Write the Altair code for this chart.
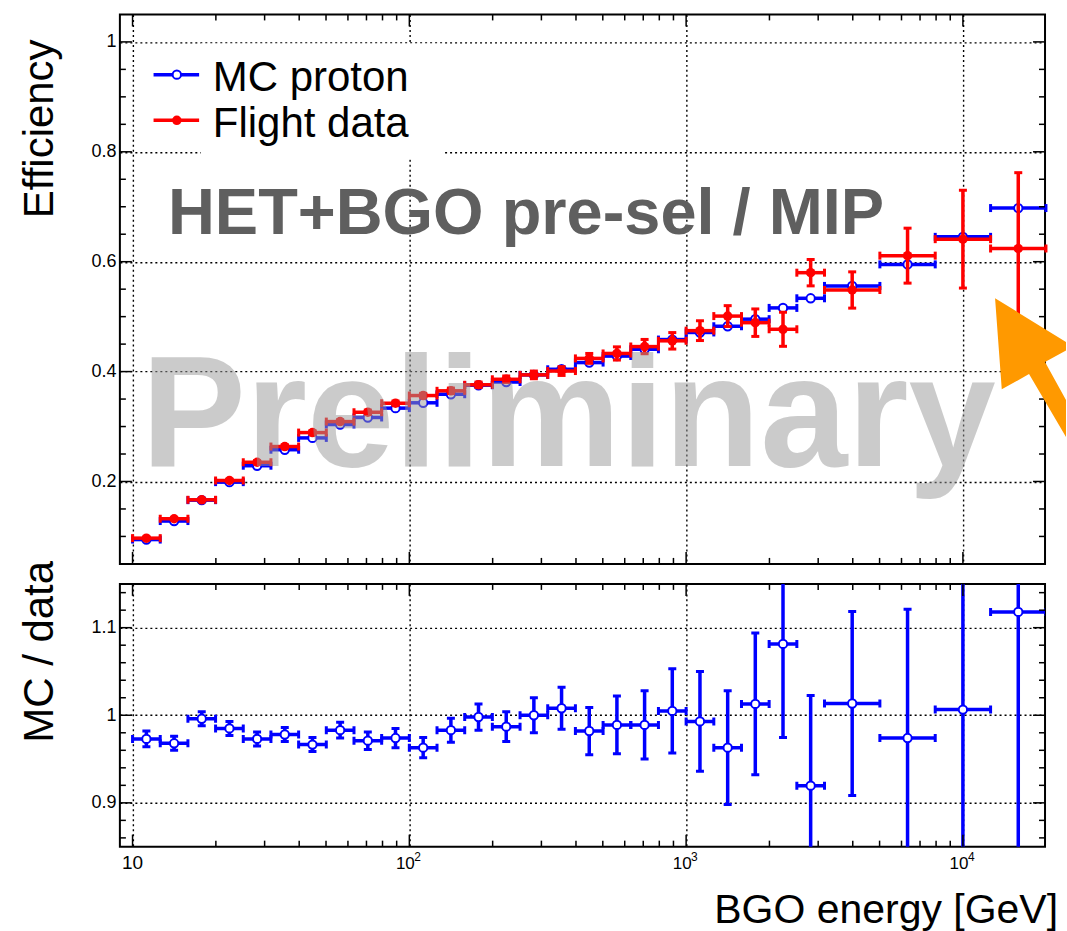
import altair as alt
import pandas as pd

# ---------------- data ----------------
bin_lo = [10.0, 12.59, 15.85, 19.95, 25.12, 31.62, 39.81, 50.12, 63.10, 79.43,
          100.0, 125.9, 158.5, 199.5, 251.2, 316.2, 398.1, 501.2, 631.0, 794.3,
          1000.0, 1259.0, 1585.0, 1995.0, 2512.0, 3162.0, 5012.0, 7943.0, 12589.0]
bin_hi = [12.59, 15.85, 19.95, 25.12, 31.62, 39.81, 50.12, 63.10, 79.43, 100.0,
          125.9, 158.5, 199.5, 251.2, 316.2, 398.1, 501.2, 631.0, 794.3, 1000.0,
          1259.0, 1585.0, 1995.0, 2512.0, 3162.0, 5012.0, 7943.0, 12589.0, 19953.0]
bin_center = [11.22, 14.13, 17.78, 22.39, 28.18, 35.48, 44.67, 56.23, 70.79, 89.13,
              112.2, 141.3, 177.8, 223.9, 281.8, 354.8, 446.7, 562.3, 707.9, 891.3,
              1122.0, 1413.0, 1778.0, 2239.0, 2818.0, 3981.0, 6310.0, 10000.0, 15849.0]

data_eff = [0.0969, 0.1322, 0.1667, 0.2018, 0.235, 0.2636, 0.289, 0.309, 0.326, 0.3424,
            0.3564, 0.365, 0.376, 0.386, 0.394, 0.401, 0.424, 0.433, 0.4455, 0.456,
            0.4745, 0.501, 0.489, 0.477, 0.580, 0.5485, 0.611, 0.641, 0.624]
data_err = [0.002, 0.002, 0.002, 0.002, 0.003, 0.003, 0.003, 0.003, 0.004, 0.004,
            0.004, 0.005, 0.005, 0.006, 0.007, 0.008, 0.009, 0.012, 0.013, 0.015,
            0.018, 0.019, 0.025, 0.031, 0.024, 0.033, 0.050, 0.089, 0.138]
mc_eff = [0.0943, 0.1280, 0.1660, 0.1988, 0.2287, 0.2578, 0.2793, 0.3037, 0.3165, 0.3335,
          0.3432, 0.3588, 0.3752, 0.3810, 0.3940, 0.4042, 0.4164, 0.4282, 0.4406, 0.4583,
          0.4712, 0.4825, 0.4954, 0.5159, 0.5334, 0.5559, 0.5951, 0.6452, 0.6976]
ratio = [0.973, 0.968, 0.996, 0.985, 0.973, 0.978, 0.9665, 0.983, 0.971, 0.974,
         0.963, 0.983, 0.998, 0.987, 1.000, 1.008, 0.982, 0.989, 0.989, 1.005,
         0.993, 0.963, 1.013, 1.0815, 0.9196, 1.0134, 0.974, 1.0065, 1.118]
ratio_err = [0.009, 0.008, 0.008, 0.008, 0.008, 0.008, 0.008, 0.009, 0.010, 0.011,
             0.0116, 0.0137, 0.015, 0.017, 0.020, 0.024, 0.027, 0.033, 0.039, 0.048,
             0.057, 0.065, 0.081, 0.107, 0.103, 0.105, 0.147, 0.200, 0.300]

x_major = [10, 100, 1000, 10000]
x_minor = [20, 30, 40, 50, 60, 70, 80, 90, 200, 300, 400, 500, 600, 700, 800, 900,
           2000, 3000, 4000, 5000, 6000, 7000, 8000, 9000]
x_label_base = ["10", "10", "10", "10"]
x_label_exp = ["", "2", "3", "4"]
y1_major = [0.2, 0.4, 0.6, 0.8, 1.0]
y1_minor = [0.1, 0.15, 0.25, 0.3, 0.35, 0.45, 0.5, 0.55, 0.65, 0.7, 0.75, 0.85, 0.9, 0.95]
y2_major = [0.9, 1.0, 1.1]
y2_minor = [0.86, 0.88, 0.92, 0.94, 0.96, 0.98, 1.02, 1.04, 1.06, 1.08, 1.12, 1.14]
legend_labels = ["MC proton", "Flight data"]
title_top = "HET+BGO pre-sel / MIP"
watermark = "Preliminary"

df = pd.DataFrame({"lo": bin_lo, "hi": bin_hi, "c": bin_center,
                   "data": data_eff, "derr": data_err, "mc": mc_eff,
                   "ratio": ratio, "rerr": ratio_err})
df["dlo"] = df["data"] - df["derr"]
df["dhi"] = df["data"] + df["derr"]
df["rlo"] = df["ratio"] - df["rerr"]
df["rhi"] = df["ratio"] + df["rerr"]
one = pd.DataFrame({"k": [0]})

# ---------------- styling ----------------
W, H1, H2 = 926, 550, 263
BLUE, RED, ORANGE = "#0000ff", "#ff0000", "#ff9900"
LW = 3.5
GRID = dict(grid=True, gridColor="black", gridDash=[2, 3], gridWidth=1.4,
            gridOpacity=1, ticks=False, tickSize=0, domain=False)

xscale = alt.Scale(type="log", domain=[9, 19800], nice=False)
y1scale = alt.Scale(domain=[0.05, 1.05], nice=False, zero=False)
y2scale = alt.Scale(domain=[0.85, 1.15], nice=False, zero=False)
xaxis = alt.Axis(values=x_major, labels=False, title=None, **GRID)
y1axis = alt.Axis(values=y1_major, format="~g", labelFontSize=18, labelColor="black",
                  labelPadding=4, title=None, **GRID)
y2axis = alt.Axis(values=y2_major, format="~g", labelFontSize=18, labelColor="black",
                  labelPadding=4, title=None, **GRID)


def X(f):
    return alt.X(f, type="quantitative", scale=xscale, axis=xaxis)


def Y1(f):
    return alt.Y(f, type="quantitative", scale=y1scale, axis=y1axis)


def Y2(f):
    return alt.Y(f, type="quantitative", scale=y2scale, axis=y2axis)


def err_layers(Y, yf, lo, hi, color, open_marker, clip=False, vert=True):
    base = alt.Chart(df)
    out = [base.mark_rule(color=color, strokeWidth=LW, clip=clip).encode(
        x=X("lo"), x2="hi", y=Y(yf))]
    for f in ["lo", "hi"]:
        out.append(base.mark_tick(orient="vertical", size=8, thickness=3, color=color,
                                  opacity=1, clip=clip).encode(x=X(f), y=Y(yf)))
    if vert:
        out.append(base.mark_rule(color=color, strokeWidth=LW, clip=clip).encode(
            x=X("c"), y=Y(lo), y2=hi))
        for f in [lo, hi]:
            out.append(base.mark_tick(orient="horizontal", size=8, thickness=3, color=color,
                                      opacity=1, clip=clip).encode(x=X("c"), y=Y(f)))
    if open_marker:
        out.append(base.mark_point(shape="circle", filled=True, fill="white", stroke=color,
                                   strokeWidth=2, size=70, opacity=1, clip=clip).encode(
            x=X("c"), y=Y(yf)))
    else:
        out.append(base.mark_point(shape="circle", filled=True, color=color, size=90,
                                   opacity=1, clip=clip).encode(x=X("c"), y=Y(yf)))
    return out


def frame_ticks(Y, H, ymaj, ymin):
    out = []
    for vals, L in [(x_major, 12), (x_minor, 6)]:
        d = pd.DataFrame({"v": vals})
        out.append(alt.Chart(d).mark_rule(color="black", strokeWidth=1.5).encode(
            x=X("v"), y=alt.value(H), y2=alt.value(H - L)))
        out.append(alt.Chart(d).mark_rule(color="black", strokeWidth=1.5).encode(
            x=X("v"), y=alt.value(0), y2=alt.value(L)))
    for vals, L in [(ymaj, 12), (ymin, 6)]:
        d = pd.DataFrame({"v": vals})
        out.append(alt.Chart(d).mark_rule(color="black", strokeWidth=1.5).encode(
            y=Y("v"), x=alt.value(0), x2=alt.value(L)))
        out.append(alt.Chart(d).mark_rule(color="black", strokeWidth=1.5).encode(
            y=Y("v"), x=alt.value(W), x2=alt.value(W - L)))
    return out


def text(t, x, y, size, **kw):
    return alt.Chart(one).mark_text(text=t, fontSize=size, **kw).encode(
        x=alt.value(x), y=alt.value(y))


# ---------------- top panel ----------------
top_layers = []
# anchor so the plot area lands at (119, 13) in the page
top_layers.append(alt.Chart(one).mark_rect(color="white", opacity=1).encode(
    x=alt.value(-119), x2=alt.value(-118), y=alt.value(-13), y2=alt.value(-12)))
# legend background box
top_layers.append(alt.Chart(one).mark_rect(color="white", opacity=1).encode(
    x=alt.value(81), x2=alt.value(324), y=alt.value(29), y2=alt.value(145)))
top_layers += err_layers(Y1, "mc", None, None, BLUE, True, vert=False)
top_layers += err_layers(Y1, "data", "dlo", "dhi", RED, False)
# watermark
top_layers.append(text(watermark, 449, 452, 157, fontWeight="bold", color="#999999",
                       opacity=0.5, align="center", baseline="alphabetic"))
top_layers.append(text(title_top, 406.5, 220, 65, fontWeight="bold", color="#5f5f5f",
                       align="center", baseline="alphabetic"))
# legend
for i, (lab, col, op) in enumerate([(legend_labels[0], BLUE, True), (legend_labels[1], RED, False)]):
    yy = 60.3 + i * 45.7
    top_layers.append(alt.Chart(one).mark_rule(color=col, strokeWidth=LW).encode(
        x=alt.value(33.7), x2=alt.value(79.3), y=alt.value(yy)))
    if op:
        top_layers.append(alt.Chart(one).mark_point(shape="circle", filled=True, fill="white",
                                                    stroke=col, strokeWidth=2, size=70,
                                                    opacity=1).encode(
            x=alt.value(57), y=alt.value(yy)))
    else:
        top_layers.append(alt.Chart(one).mark_point(shape="circle", filled=True, color=col,
                                                    size=90, opacity=1).encode(
            x=alt.value(57), y=alt.value(yy)))
    top_layers.append(text(lab, 93, yy + 16.5, 42, color="black", align="left",
                           baseline="alphabetic"))
top_layers.append(text("Efficiency", -67.3, 114.5, 42, color="black", angle=270,
                       align="center", baseline="alphabetic"))
top_layers += frame_ticks(Y1, H1, y1_major, y1_minor)
# orange arrow annotation (cut at the page edge like the reference)
arrow_path = "M0,0 L71,44 L71,52.5 L50,64 L71,102 L71,139 L34,76 L6.7,91.3 Z"
top_layers.append(alt.Chart(one).mark_point(shape=arrow_path, size=4, filled=True,
                                            color=ORANGE, opacity=1, strokeWidth=0).encode(
    x=alt.value(876), y=alt.value(284)))

top = alt.layer(*top_layers).properties(width=W, height=H1)

# ---------------- bottom panel ----------------
bot_layers = err_layers(Y2, "ratio", "rlo", "rhi", BLUE, True, clip=True)
bot_layers += frame_ticks(Y2, H2, y2_major, y2_minor)
lab0 = pd.DataFrame({"v": x_major[:1], "t": x_label_base[:1]})
labn = pd.DataFrame({"v": x_major[1:], "b": x_label_base[1:], "e": x_label_exp[1:]})
bot_layers.append(alt.Chart(lab0).mark_text(fontSize=19, color="black", align="center",
                                            baseline="alphabetic").encode(
    x=X("v"), y=alt.value(285), text="t:N"))
bot_layers.append(alt.Chart(labn).mark_text(fontSize=17, color="black", align="center",
                                            baseline="alphabetic", dx=-4).encode(
    x=X("v"), y=alt.value(285), text="b:N"))
bot_layers.append(alt.Chart(labn).mark_text(fontSize=12, color="black", align="left",
                                            baseline="alphabetic", dx=5).encode(
    x=X("v"), y=alt.value(277), text="e:N"))
bot_layers.append(text("MC / data", -67.3, 68, 42, color="black", angle=270,
                       align="center", baseline="alphabetic"))
bot_layers.append(text("BGO energy [GeV]", 939, 339, 41, color="black", align="right",
                       baseline="alphabetic"))

bottom = alt.layer(*bot_layers).properties(width=W, height=H2)

chart = alt.vconcat(top, bottom, spacing=20, bounds="flush",
                    padding={"left": 0, "top": 0, "right": 0, "bottom": 0}).configure(
    font="Liberation Sans").configure_view(stroke="black", strokeWidth=2)

chart.save("out.html", embed_options={"renderer": "svg", "actions": False})
